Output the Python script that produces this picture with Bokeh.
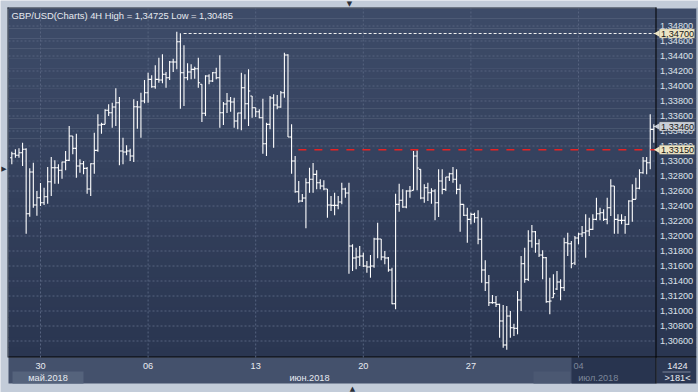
import math
from bokeh.plotting import figure
from bokeh.models import Label, BoxAnnotation, Range1d
from bokeh.core.properties import value
from bokeh.embed import file_html
from bokeh.resources import INLINE

# ---------------- data (GBP/USD, 4H bars) ----------------
chart_title = "GBP/USD(Charts) 4H High = 1,34725 Low = 1,30485"

opens = [
    1.33044, 1.33097, 1.33076, 1.33111, 1.33156, 1.32297, 1.32853, 1.32413, 1.32511, 1.32444,
    1.32524, 1.32724, 1.32911, 1.32911, 1.32876, 1.32987, 1.33009, 1.33333, 1.33169, 1.32933,
    1.32964, 1.32902, 1.32627, 1.32964, 1.33142, 1.33480, 1.33489, 1.33676, 1.33644, 1.33720,
    1.33777, 1.33133, 1.33120, 1.33133, 1.33067, 1.33724, 1.33720, 1.33800, 1.33911, 1.34089,
    1.33991, 1.34089, 1.34080, 1.34156, 1.34111, 1.34320, 1.34320, 1.34591, 1.34177, 1.34111,
    1.34187, 1.34222, 1.34231, 1.34023, 1.33636, 1.34133, 1.34067, 1.34177, 1.34111, 1.33644,
    1.33760, 1.33800, 1.33787, 1.33533, 1.33640, 1.33977, 1.33764, 1.33867, 1.33711, 1.33657,
    1.33577, 1.33231, 1.33489, 1.33840, 1.33747, 1.33720, 1.33911, 1.34413, 1.33320, 1.33000,
    1.32591, 1.32467, 1.32507, 1.32711, 1.32756, 1.32822, 1.32711, 1.32667, 1.32627, 1.32413,
    1.32409, 1.32409, 1.32453, 1.32627, 1.32573, 1.31867, 1.31707, 1.31720, 1.31733, 1.31600,
    1.31587, 1.31600, 1.31960, 1.31960, 1.31720, 1.31707, 1.31547, 1.31097, 1.32422, 1.32476,
    1.32387, 1.32600, 1.32609, 1.33067, 1.32889, 1.32507, 1.32644, 1.32577, 1.32600, 1.32444,
    1.32733, 1.32622, 1.32787, 1.32831, 1.32756, 1.32622, 1.32422, 1.32276, 1.32222, 1.32289,
    1.32244, 1.31956, 1.31547, 1.31377, 1.31111, 1.31111, 1.31089, 1.30867, 1.30547, 1.30933,
    1.30777, 1.30769, 1.31147, 1.31631, 1.31422, 1.31933, 1.32057, 1.31897, 1.31747, 1.31711,
    1.31124, 1.31177, 1.31293, 1.31387, 1.31311, 1.31911, 1.31897, 1.31640, 1.31973, 1.32027,
    1.32044, 1.32067, 1.32089, 1.32222, 1.32297, 1.32311, 1.32222, 1.32377, 1.32667, 1.32222,
    1.32209, 1.32209, 1.32156, 1.32467, 1.32489, 1.32636, 1.32844, 1.33000, 1.32977, 1.33422,
]
highs = [
    1.33124, 1.33156, 1.33169, 1.33244, 1.33169, 1.32902, 1.32977, 1.32600, 1.32707, 1.32644,
    1.32920, 1.33053, 1.33009, 1.32956, 1.32991, 1.33133, 1.33467, 1.33333, 1.33364, 1.33022,
    1.33000, 1.32920, 1.32970, 1.33377, 1.33622, 1.33511, 1.33689, 1.33756, 1.33777, 1.33969,
    1.33853, 1.33311, 1.33209, 1.33164, 1.33822, 1.33800, 1.33911, 1.34080, 1.34177, 1.34143,
    1.34276, 1.34377, 1.34423, 1.34187, 1.34333, 1.34364, 1.34725, 1.34703, 1.34543, 1.34302,
    1.34289, 1.34257, 1.34377, 1.34023, 1.34143, 1.34156, 1.34187, 1.34244, 1.34409, 1.33787,
    1.33907, 1.33853, 1.33844, 1.33644, 1.34177, 1.34156, 1.34222, 1.33867, 1.33711, 1.33689,
    1.33831, 1.33511, 1.33867, 1.33889, 1.33880, 1.33933, 1.34444, 1.34423, 1.33489, 1.33067,
    1.32733, 1.32560, 1.32769, 1.32911, 1.32973, 1.32876, 1.32756, 1.32742, 1.32627, 1.32533,
    1.32577, 1.32533, 1.32711, 1.32644, 1.32711, 1.31889, 1.31844, 1.31867, 1.31777, 1.31667,
    1.31747, 1.31977, 1.32177, 1.31960, 1.31800, 1.31720, 1.31577, 1.32564, 1.32697, 1.32622,
    1.32609, 1.32667, 1.33133, 1.33142, 1.32889, 1.32689, 1.32711, 1.32636, 1.32622, 1.32889,
    1.32889, 1.32787, 1.32844, 1.32920, 1.32889, 1.32689, 1.32422, 1.32377, 1.32311, 1.32311,
    1.32342, 1.32244, 1.31676, 1.31480, 1.31213, 1.31200, 1.31097, 1.31080, 1.31067, 1.31000,
    1.30831, 1.31267, 1.31733, 1.31844, 1.32076, 1.32147, 1.32067, 1.31956, 1.31809, 1.31720,
    1.31444, 1.31489, 1.31533, 1.31422, 1.31977, 1.32044, 1.31933, 1.32000, 1.32044, 1.32133,
    1.32289, 1.32244, 1.32289, 1.32511, 1.32377, 1.32356, 1.32511, 1.32756, 1.32667, 1.32289,
    1.32289, 1.32267, 1.32476, 1.32689, 1.32777, 1.32889, 1.33053, 1.33053, 1.33622, 1.33489,
]
lows = [
    1.32956, 1.33044, 1.33044, 1.32933, 1.32031, 1.32257, 1.32377, 1.32271, 1.32400, 1.32413,
    1.32431, 1.32533, 1.32697, 1.32697, 1.32764, 1.32876, 1.33000, 1.33089, 1.32777, 1.32844,
    1.32822, 1.32564, 1.32533, 1.32831, 1.33124, 1.33364, 1.33489, 1.33600, 1.33444, 1.33467,
    1.32942, 1.32956, 1.33076, 1.33000, 1.32987, 1.33431, 1.33311, 1.33769, 1.33777, 1.33977,
    1.33964, 1.34044, 1.34036, 1.33977, 1.34080, 1.34187, 1.34222, 1.33697, 1.33733, 1.34076,
    1.34089, 1.34097, 1.33977, 1.33520, 1.33600, 1.34023, 1.34053, 1.34089, 1.33444, 1.33480,
    1.33640, 1.33657, 1.33444, 1.33422, 1.33409, 1.33556, 1.33467, 1.33577, 1.33587, 1.33569,
    1.33097, 1.33067, 1.33422, 1.33177, 1.33689, 1.33711, 1.33844, 1.33320, 1.32831, 1.32577,
    1.32444, 1.32453, 1.32102, 1.32577, 1.32577, 1.32622, 1.32622, 1.32609, 1.32244, 1.32333,
    1.32276, 1.32356, 1.32422, 1.32511, 1.31497, 1.31533, 1.31556, 1.31600, 1.31587, 1.31511,
    1.31444, 1.31577, 1.31702, 1.31676, 1.31622, 1.31524, 1.31089, 1.31022, 1.32324, 1.32377,
    1.32369, 1.32511, 1.32609, 1.32609, 1.32489, 1.32444, 1.32467, 1.32431, 1.32209, 1.32253,
    1.32556, 1.32600, 1.32733, 1.32711, 1.32556, 1.32057, 1.32267, 1.31911, 1.32156, 1.32177,
    1.31889, 1.31377, 1.31267, 1.31067, 1.31097, 1.31053, 1.30644, 1.30511, 1.30485, 1.30644,
    1.30667, 1.30689, 1.31000, 1.31377, 1.31400, 1.31844, 1.31777, 1.31720, 1.31422, 1.31111,
    1.30956, 1.31177, 1.31280, 1.31142, 1.31267, 1.31733, 1.31569, 1.31613, 1.31889, 1.31987,
    1.31711, 1.32000, 1.32080, 1.32209, 1.32209, 1.32200, 1.32156, 1.32267, 1.32031, 1.32031,
    1.32156, 1.32031, 1.32147, 1.32191, 1.32489, 1.32622, 1.32831, 1.32822, 1.32889, 1.33244,
]
closes = [
    1.33097, 1.33076, 1.33111, 1.33156, 1.32297, 1.32853, 1.32413, 1.32511, 1.32444, 1.32524,
    1.32724, 1.32911, 1.32911, 1.32876, 1.32987, 1.33009, 1.33333, 1.33169, 1.32933, 1.32964,
    1.32902, 1.32627, 1.32964, 1.33142, 1.33480, 1.33489, 1.33676, 1.33644, 1.33720, 1.33777,
    1.33133, 1.33120, 1.33133, 1.33067, 1.33724, 1.33720, 1.33800, 1.33911, 1.34089, 1.33991,
    1.34089, 1.34080, 1.34156, 1.34111, 1.34320, 1.34320, 1.34591, 1.34177, 1.34111, 1.34187,
    1.34222, 1.34231, 1.34044, 1.33636, 1.34133, 1.34067, 1.34177, 1.34111, 1.33644, 1.33760,
    1.33800, 1.33787, 1.33533, 1.33640, 1.33977, 1.33764, 1.33933, 1.33711, 1.33657, 1.33577,
    1.33231, 1.33489, 1.33840, 1.33747, 1.33720, 1.33911, 1.34413, 1.33320, 1.33000, 1.32591,
    1.32467, 1.32507, 1.32711, 1.32756, 1.32822, 1.32711, 1.32667, 1.32627, 1.32413, 1.32409,
    1.32409, 1.32453, 1.32627, 1.32573, 1.31867, 1.31707, 1.31720, 1.31733, 1.31600, 1.31587,
    1.31600, 1.31960, 1.31960, 1.31720, 1.31707, 1.31547, 1.31097, 1.32422, 1.32476, 1.32387,
    1.32600, 1.32600, 1.33067, 1.32907, 1.32507, 1.32644, 1.32577, 1.32600, 1.32444, 1.32733,
    1.32622, 1.32787, 1.32831, 1.32756, 1.32622, 1.32422, 1.32276, 1.32222, 1.32289, 1.32244,
    1.31956, 1.31547, 1.31377, 1.31111, 1.31111, 1.31089, 1.30867, 1.30547, 1.30933, 1.30777,
    1.30769, 1.31147, 1.31631, 1.31422, 1.31933, 1.32057, 1.31897, 1.31747, 1.31711, 1.31124,
    1.31133, 1.31231, 1.31387, 1.31311, 1.31911, 1.31897, 1.31631, 1.31973, 1.32027, 1.32044,
    1.32067, 1.32089, 1.32222, 1.32297, 1.32311, 1.32222, 1.32377, 1.32667, 1.32222, 1.32209,
    1.32209, 1.32156, 1.32467, 1.32489, 1.32636, 1.32844, 1.33000, 1.32977, 1.33422, 1.33460,
]

day_ticks = [8, 38, 68, 98, 128, 158]              # bar index of each week-start label
day_labels = ["30", "06", "13", "20", "27", "04"]
month_label_bars = [10.1, 83.0, 163.5]
month_labels = ["май.2018", "июн.2018", "июл.2018"]
price_ticks = [1.306, 1.308, 1.310, 1.312, 1.314, 1.316, 1.318, 1.320, 1.322, 1.324, 1.326,
               1.328, 1.330, 1.332, 1.334, 1.336, 1.338, 1.340, 1.342, 1.344, 1.346, 1.348]
high_line_level = 1.34700
high_line_from_bar = 47.9
alert_level = 1.33150
alert_from_bar = 79.9
last_price = closes[-1]
bars_count_text = ">181<"
scroll_text = "1424"

# ---------------- geometry / style ----------------
W, H = 698, 392
FONT = "Liberation Sans"
FS = "9.2px"
BAR_PX = 3.5867          # pixels per bar
X0_PX = 40               # pixel column of bar index 8
PX_PER_UNIT = 7500.0     # pixels per 1.0 of price
REF_PRICE, REF_PX = 1.348, 25.5
CL, CT, CR, CB = 8, 8, 656, 357      # chart area (window pixels)
PR = 696                             # right edge of price panel
BB = 383                             # bottom edge of time panel


def dx(px):
    return 8 + (px - X0_PX) / BAR_PX


def dy(py):
    return REF_PRICE - (py - REF_PX) / PX_PER_UNIT


p = figure(width=W, height=H, x_range=Range1d(dx(0), dx(W)), y_range=Range1d(dy(H), dy(0)),
           x_axis_location=None, y_axis_location=None,
           output_backend="svg", toolbar_location=None, tools="", min_border=0)
p.background_fill_color = "#c3ccd9"
p.border_fill_color = "#c3ccd9"
p.outline_line_color = None
p.xgrid.visible = False
p.ygrid.visible = False


def box(x0, y0, x1, y1, color, level="image", **kw):
    p.add_layout(BoxAnnotation(left=dx(x0), right=dx(x1), top=dy(y0), bottom=dy(y1),
                               fill_color=color, fill_alpha=1.0, level=level,
                               **({"line_color": None} | kw)))


# chart + price panel background (vertical gradient)
top_rgb, bot_rgb = (61, 75, 104), (42, 54, 81)
n_bands = 35
for k in range(n_bands):
    t = k / (n_bands - 1)
    c = tuple(round(a + (b - a) * t) for a, b in zip(top_rgb, bot_rgb))
    y0 = CT + (CB - CT) * k / n_bands
    y1 = CT + (CB - CT) * (k + 1) / n_bands + 0.4
    box(CL, y0, PR, min(y1, CB), "#%02x%02x%02x" % c)

# time panel
box(CL, CB, CR, BB, "#44516c")
box(CR, CB, PR, BB, "#2c3854")
box(571, CB, 655, BB, "#28344f")
box(533, 371, 570, BB, "#4b5872")
box(12, 371, 83, BB, "#55637c")
# separator lines
box(CL - 1, CT - 1, CR, CT, "#1b2232")
box(CL - 1, CT - 1, CL, CB, "#1b2232")
box(CR - 1, CT - 1, CR, BB, "#000000")
box(CL, CB - 1, PR, CB, "#000000")
box(PR, CT - 1, PR + 1, BB, "#9aa5b8")
box(662, 371, 690, 372, "#7a859a")

# dashed grid inside the chart area
grid_col = "#56637f"
p.segment([dx(CL)] * len(price_ticks), price_ticks, [dx(CR - 1)] * len(price_ticks), price_ticks,
          line_color=grid_col, line_width=1, line_dash="2 2")
p.segment(day_ticks, [dy(CB)] * len(day_ticks), day_ticks, [dy(CT)] * len(day_ticks),
          line_color=grid_col, line_width=1, line_dash="2 2")

# OHLC bars
idx = list(range(len(opens)))
TICK = 0.5
bar_col = "#ffffff"
p.segment(idx, lows, idx, highs, line_color=bar_col, line_width=1.1)
p.segment([i - TICK for i in idx], opens, idx, opens, line_color=bar_col, line_width=1.1)
p.segment(idx, closes, [i + TICK for i in idx], closes, line_color=bar_col, line_width=1.1)

# horizontal level lines
p.segment([high_line_from_bar], [high_line_level], [dx(CR - 1)], [high_line_level],
          line_color="#f2f2f2", line_width=1.1, line_dash="3 2")
p.segment([alert_from_bar], [alert_level], [dx(CR - 1)], [alert_level],
          line_color="#e82222", line_width=1.3, line_dash="8 8")

# price axis labels
p.text(x=[dx(659.5)] * len(price_ticks), y=price_ticks,
       text=[("%.5f" % v).replace(".", ",") for v in price_ticks],
       text_font=value(FONT), text_font_size=FS, text_color="#dde2ea",
       text_align="left", text_baseline="middle")

# time axis labels
p.text(x=day_ticks[:-1], y=[dy(365)] * (len(day_ticks) - 1), text=day_labels[:-1],
       text_font=value(FONT), text_font_size=FS, text_color="#e8ebf1",
       text_align="center", text_baseline="middle")
p.text(x=[day_ticks[-1]], y=[dy(365)], text=[day_labels[-1]],
       text_font=value(FONT), text_font_size=FS, text_color="#7d879a",
       text_align="center", text_baseline="middle")
p.text(x=month_label_bars[:2], y=[dy(377)] * 2, text=month_labels[:2],
       text_font=value(FONT), text_font_size=FS, text_color="#e8ebf1",
       text_align="center", text_baseline="middle")
p.text(x=[month_label_bars[2]], y=[dy(377)], text=[month_labels[2]],
       text_font=value(FONT), text_font_size=FS, text_color="#7d879a",
       text_align="center", text_baseline="middle")


def lab(text, X, Y, color="#e8ebf1", align="left", y_price=None, size=FS, font=FONT):
    l = Label(x=X, y=(H - Y if y_price is None else y_price), x_units="screen",
              y_units=("screen" if y_price is None else "data"), text=text,
              text_align=align, text_baseline="middle", text_font=font,
              text_font_size=size, text_color=color)
    p.add_layout(l)


# title
lab(chart_title, 11, 15, color="#e6e9ef", size="9.4px")

# corner box texts
lab(scroll_text, 677, 365, align="center")
lab(bars_count_text, 677, 377.5, align="center")

# price tags on the right (arrow + box + text)
tag_yellow, tag_grey = "#ece4c4", "#c9ced8"
tags = [(high_line_level, tag_yellow), (last_price, tag_grey), (alert_level, tag_yellow)]
p.scatter(x=[dx(658)] * len(tags), y=[t[0] for t in tags], marker="triangle", size=8,
          angle=math.pi / 2, fill_color=[t[1] for t in tags], line_color=None)
for price, bg in tags:
    p.add_layout(BoxAnnotation(left=dx(659), right=dx(694),
                               top=price + 4.5 / PX_PER_UNIT, bottom=price - 4.5 / PX_PER_UNIT,
                               fill_color=bg, fill_alpha=1.0, line_color="#8c8878",
                               line_width=1, level="annotation"))
for price, bg in tags:
    lab(("%.5f" % price).replace(".", ","), 660.5, 0, color="#161616", y_price=price)

# window frame arrows
lab("\u25bc", 349, 3.5, align="center", color="#2a2f3a", size="7px", font="DejaVu Sans")
lab("\u25b2", 352, 388, align="center", color="#2a2f3a", size="7px", font="DejaVu Sans")
lab("\u25b6", 3.5, 168, align="center", color="#2a2f3a", size="7px", font="DejaVu Sans")

open("out.html", "w").write(file_html(p, INLINE))
